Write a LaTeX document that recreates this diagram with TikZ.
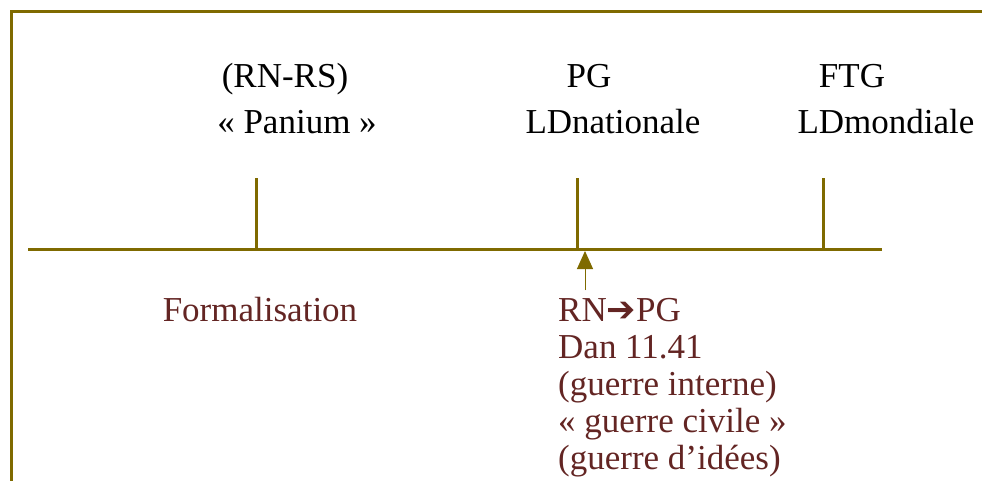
\documentclass[tikz,border=0pt]{standalone}
\usepackage{fontspec}
\setmainfont{Liberation Serif}
\newfontfamily\arrowfont{DejaVu Sans}
\usetikzlibrary{arrows.meta,positioning}

\definecolor{olivebar}{RGB}{127,106,0}
\definecolor{brownlbl}{RGB}{99,37,35}

\tikzset{
  frameline/.style={draw=olivebar,line width=3pt},
  axisline/.style={draw=olivebar,line width=3pt},
  tickmark/.style={draw=olivebar,line width=3pt},
  toplbl/.style={inner sep=0pt,anchor=base,font=\fontsize{35}{37}\selectfont},
  lowlbl/.style={inner sep=0pt,text=brownlbl,font=\fontsize{35}{37}\selectfont}
}

\begin{document}
\begin{tikzpicture}[x=1pt,y=-1pt,>={Triangle[width=16pt,length=18pt]}]

  \useasboundingbox (0,0) rectangle (982,481);

  % frame
  \draw[frameline] (11,481) -- (11,12) -- (982,12);

  % time line
  \coordinate (ax0) at (28,249);
  \coordinate (ax1) at (882,249);
  \draw[axisline] (ax0) -- (ax1);

  \coordinate (t1) at (256,249);
  \coordinate (t2) at (577,249);
  \coordinate (t3) at (823,249);
  \foreach \t in {t1,t2,t3}
    \draw[tickmark] (\t) -- ++(0,-71);

  % labels above
  \node[toplbl] (rnrs) at (285,88) {(RN-RS)};
  \node[toplbl] (panium) at (297,134) {« Panium »};
  \node[toplbl] (pg) at (589,88) {PG};
  \node[toplbl] (ldnat) at (613,134) {LDnationale};
  \node[toplbl] (ftg) at (852,88) {FTG};
  \node[toplbl] (ldmond) at (886,134) {LDmondiale};

  % labels below
  \node[lowlbl,anchor=base] (formal) at (260,321) {Formalisation};
  \node[lowlbl,anchor=base west,align=left] (guerre) at (558,469)
    {RN{\arrowfont ➔}PG\\Dan 11.41\\(guerre interne)\\« guerre civile »\\(guerre d’idées)};

  \coordinate (arrtail) at (585,290);
  \coordinate (arrtip) at (585,251);
  \draw[->,draw=olivebar,fill=olivebar,line width=1pt] (arrtail) -- (arrtip);

\end{tikzpicture}
\end{document}
